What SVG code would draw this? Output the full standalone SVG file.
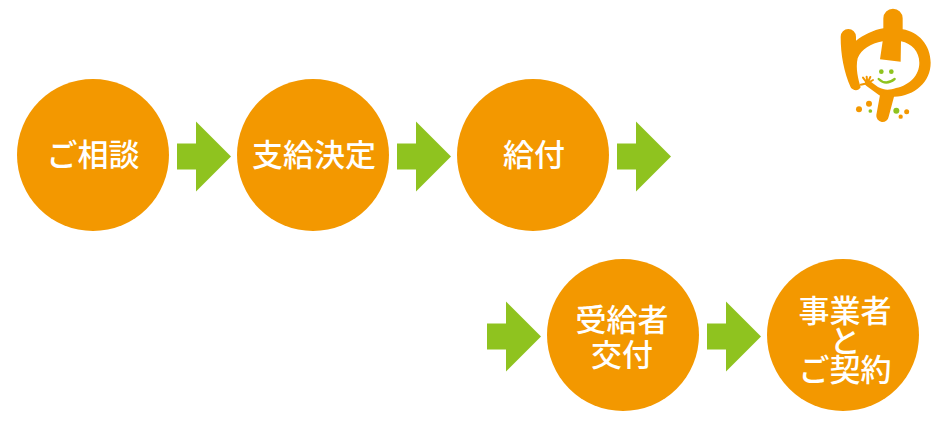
<svg xmlns="http://www.w3.org/2000/svg" width="942" height="423" viewBox="0 0 942 423">
<style>
.c{fill:#f39800}
.a{fill:#8fc31f}
text{font-family:"Noto Sans CJK JP","Noto Sans CJK SC",sans-serif;font-size:31px;font-weight:500;fill:#fff;text-anchor:middle}
</style>
<defs><path id="ar" d="M0 -13H19V-35L54 0L19 35V13H0Z"/></defs>
<rect width="942" height="423" fill="#fff"/>
<g id="connectors" class="a">
<use href="#ar" x="177" y="156.500"/>
<use href="#ar" x="397" y="156.500"/>
<use href="#ar" x="617" y="156.500"/>
<use href="#ar" x="487" y="336.500"/>
<use href="#ar" x="707" y="336.500"/>
</g>
<g id="n1"><circle class="c" cx="93" cy="155" r="76"/><text x="93" y="165.500">ご相談</text></g>
<g id="n2"><circle class="c" cx="313" cy="155" r="76"/><text x="314" y="165.500">支給決定</text></g>
<g id="n3"><circle class="c" cx="533" cy="155" r="76"/><text x="534" y="165.500">給付</text></g>
<g id="n4"><circle class="c" cx="623" cy="335" r="76"/><text x="622" y="331">受給者</text><text x="622" y="366">交付</text></g>
<g id="n5"><circle class="c" cx="843" cy="335" r="76"/><text x="845" y="322">事業者</text><text x="845" y="352">と</text><text x="845" y="381">ご契約</text></g>
<g id="logo" transform="translate(830 0) scale(.33333)">
<path class="c" d="M32 110a23 23 0 0 1 46 0V122C100 105 130 90 160 85V55a29 29 0 0 1 58 0V88C265 95 302 135 302 188C302 245 255 288 192 290L176 350a18 18 0 0 1 -37 -5L150 285L145 262C165 272 180 270 198 264C240 255 268 225 268 188C268 155 245 130 213 124L212 185L150 178L158 124C122 130 94 148 83 175C76 205 85 240 92 262C85 275 68 272 62 262C42 215 32 165 32 110Z"/>
<g fill="none" stroke="#f39800" stroke-linecap="round">
<path stroke-width="18" d="M114 250L152 278"/>
<path stroke-width="6" d="M112 250L92 254M112 250L99 233M112 250L110 230M112 250L121 231M112 250L129 240"/>
</g>
<path d="M146 237Q168 258 194 237" fill="none" stroke="#8fc31f" stroke-width="7" stroke-linecap="round"/>
<g class="a"><circle cx="154" cy="215" r="7"/><circle cx="184" cy="215" r="7"/><circle cx="121" cy="333" r="5.500"/><circle cx="199" cy="332" r="9"/></g>
<g class="c"><circle cx="87" cy="328" r="9"/><circle cx="117" cy="311" r="9"/><circle cx="212" cy="350" r="6.500"/><circle cx="230" cy="335" r="7.500"/></g>
</g>
</svg>
